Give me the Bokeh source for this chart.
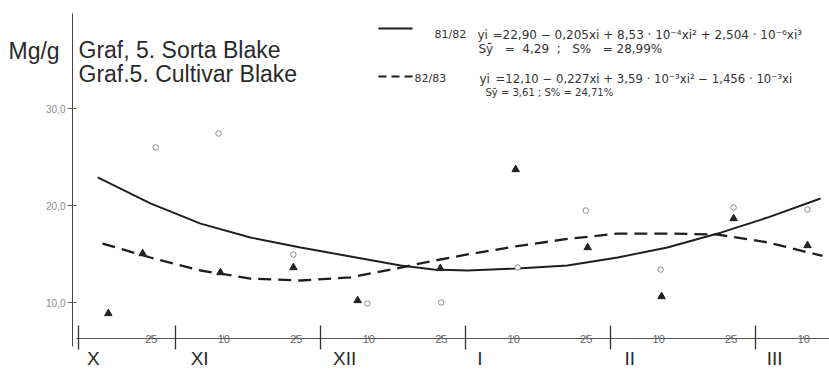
from bokeh.plotting import figure
from bokeh.models import Range1d, FixedTicker, LinearAxis, Label
from bokeh.core.properties import value
from bokeh.embed import file_html
from bokeh.resources import INLINE

# ---- data (x: days, months laid out as 30-day blocks from 1 Oct; y: Mg/g) ----
solid_x = [13.9, 24.8, 35.2, 45.5, 55.9, 66.2, 76.6, 83.4, 90.4, 100.8, 111.1, 121.5, 131.8, 142.2, 152.5, 163.5]
solid_y = [22.89, 20.21, 18.14, 16.70, 15.67, 14.74, 13.81, 13.40, 13.30, 13.51, 13.81, 14.64, 15.67, 17.11, 18.76, 20.72]
dash_x = [14.9, 24.8, 35.2, 45.5, 55.9, 66.2, 76.6, 83.4, 90.4, 100.8, 111.1, 121.5, 131.8, 142.2, 152.5, 163.9]
dash_y = [16.08, 14.64, 13.30, 12.47, 12.27, 12.58, 13.60, 14.30, 14.95, 15.82, 16.55, 17.11, 17.11, 17.01, 16.20, 14.80]

circ_x = [25.9, 38.9, 54.4, 69.7, 85.0, 100.8, 114.9, 130.4, 145.5, 160.8]
circ_y = [25.98, 27.42, 14.95, 9.90, 10.00, 13.61, 19.48, 13.40, 19.79, 19.59]
tri_x = [16.1, 23.2, 39.3, 54.4, 67.7, 84.8, 100.4, 115.3, 130.6, 145.5, 160.8]
tri_y = [8.87, 15.05, 13.09, 13.61, 10.21, 13.51, 23.71, 15.67, 10.62, 18.66, 15.88]

y_ticks = [10, 20, 30]
y_tick_labels = ["10,0", "20,0", "30,0"]
day_ticks = [25, 40, 55, 70, 85, 100, 115, 130, 145, 160]
day_labels = ["25", "10", "25", "10", "25", "10", "25", "10", "25", "10"]
month_bounds = [10, 30, 60, 90, 120, 150]
month_pos = [13, 35, 65, 93, 124, 154]
month_names = ["X", "XI", "XII", "I", "II", "III"]

W, H = 829, 373

# helpers for placing annotations (page pixel -> data coords)
def dx(px):
    return 30 + (px - 175) / 4.832

def dy(py):
    return 20 - (py - 205) / 9.70

AXIS_Y = dy(338)
YAXIS_X = dx(72)

p = figure(width=W, height=H, output_backend="svg", toolbar_location=None,
           x_range=Range1d(dx(0), dx(W)), y_range=Range1d(dy(H), dy(0)),
           min_border_left=0, min_border_right=0, min_border_top=0, min_border_bottom=0)
p.outline_line_color = None
p.xgrid.visible = False
p.ygrid.visible = False
p.background_fill_color = "white"
p.border_fill_color = "white"

# y axis
ya = p.yaxis[0]
ya.fixed_location = YAXIS_X
ya.ticker = FixedTicker(ticks=y_ticks)
ya.major_label_overrides = {t: l for t, l in zip(y_ticks, y_tick_labels)}
ya.minor_tick_line_color = None
ya.major_tick_out = 5
ya.major_tick_in = 4
ya.major_label_standoff = 2
ya.major_label_text_font = "Liberation Sans"
ya.major_label_text_font_size = "10px"
ya.major_label_text_color = "#8c8c8c"
ya.axis_line_color = "#444444"
ya.major_tick_line_color = "#666666"
ya.bounds = (dy(346), dy(13))

# x axis line (day labels drawn on the line below)
xa = p.xaxis[0]
xa.fixed_location = AXIS_Y
xa.ticker = FixedTicker(ticks=day_ticks)
xa.major_label_overrides = {t: "" for t in day_ticks}
xa.minor_tick_line_color = None
xa.major_tick_in = 3
xa.major_tick_out = 0
xa.axis_line_color = "#555555"
xa.major_tick_line_color = "#888888"
xa.bounds = (dx(76), dx(W))

p.text(x=day_ticks, y=[AXIS_Y] * len(day_ticks), text=day_labels,
       text_font=value("Liberation Sans"), text_font_size="11px",
       text_color="#666666", text_align="center", text_baseline="middle")

# month separators
sep = LinearAxis(fixed_location=AXIS_Y, ticker=FixedTicker(ticks=month_bounds),
                 major_label_overrides={t: "" for t in month_bounds},
                 axis_line_color=None, minor_tick_line_color=None,
                 major_tick_in=13, major_tick_out=11,
                 major_tick_line_color="#333333", major_tick_line_width=1.3)
p.add_layout(sep, "below")

# month names
mon = LinearAxis(fixed_location=AXIS_Y, ticker=FixedTicker(ticks=month_pos),
                 major_label_overrides={t: l for t, l in zip(month_pos, month_names)},
                 axis_line_color=None, minor_tick_line_color=None,
                 major_tick_line_color=None, major_tick_in=0, major_tick_out=0,
                 major_label_standoff=9, major_label_text_font="Liberation Sans",
                 major_label_text_font_size="19px", major_label_text_color="#2a2a2a")
p.add_layout(mon, "below")

# curves
p.line(solid_x, solid_y, line_color="#1e1e1e", line_width=1.9)
p.line(dash_x, dash_y, line_color="#1e1e1e", line_width=2.3, line_dash="13 7")

# observations
p.scatter(circ_x, circ_y, marker="circle", size=5.5, fill_color="white",
          line_color="#8a8a8a", line_width=1)
p.scatter(tri_x, tri_y, marker="triangle", size=7.5, fill_color="#222222",
          line_color="#222222")

# legend line samples
p.line([dx(378), dx(412)], [dy(28), dy(28)], line_color="#1e1e1e", line_width=2)
p.line([dx(378), dx(414)], [dy(76), dy(76)], line_color="#1e1e1e", line_width=2,
       line_dash="8 5")

def lab(px, py, text, size, color="#2a2a2a", font="Liberation Sans"):
    p.add_layout(Label(x=dx(px), y=dy(py), text=text, text_font=font,
                       text_font_size=size, text_color=color,
                       text_baseline="alphabetic", text_align="left"))

NB = "\u00a0"
lab(8, 50, "Mg/g", "23px")
lab(78, 49, "Graf, 5. Sorta Blake", "23px")
lab(78, 73, "Graf.5. Cultivar Blake", "23px")

eqf = "DejaVu Sans"
ec = "#333333"
lab(434, 34, "81/82", "11px", ec, eqf)
lab(477, 34, "yi", "12px", ec, eqf)
lab(492, 34, "=22,90 \u2212 0,205xi + 8,53 \u00b7 10\u207b\u2074xi\u00b2 + 2,504 \u00b7 10\u207b\u2076xi\u00b3", "12px", ec, eqf)
lab(478, 48, "S\u0233" + NB * 3 + "=" + NB * 2 + "4,29" + NB * 2 + ";" + NB * 3 + "S%" + NB * 3 + "= 28,99%", "12px", ec, eqf)
lab(414, 78, "82/83", "11px", ec, eqf)
lab(479, 78, "yi", "12px", ec, eqf)
lab(495, 78, "=12,10 \u2212 0,227xi + 3,59 \u00b7 10\u207b\u00b3xi\u00b2 \u2212 1,456 \u00b7 10\u207b\u00b3xi", "11.7px", ec, eqf)
lab(485, 92, "S\u0233 = 3,61 ; S% = 24,71%", "10px", ec, eqf)

open("out.html", "w").write(file_html(p, INLINE))
